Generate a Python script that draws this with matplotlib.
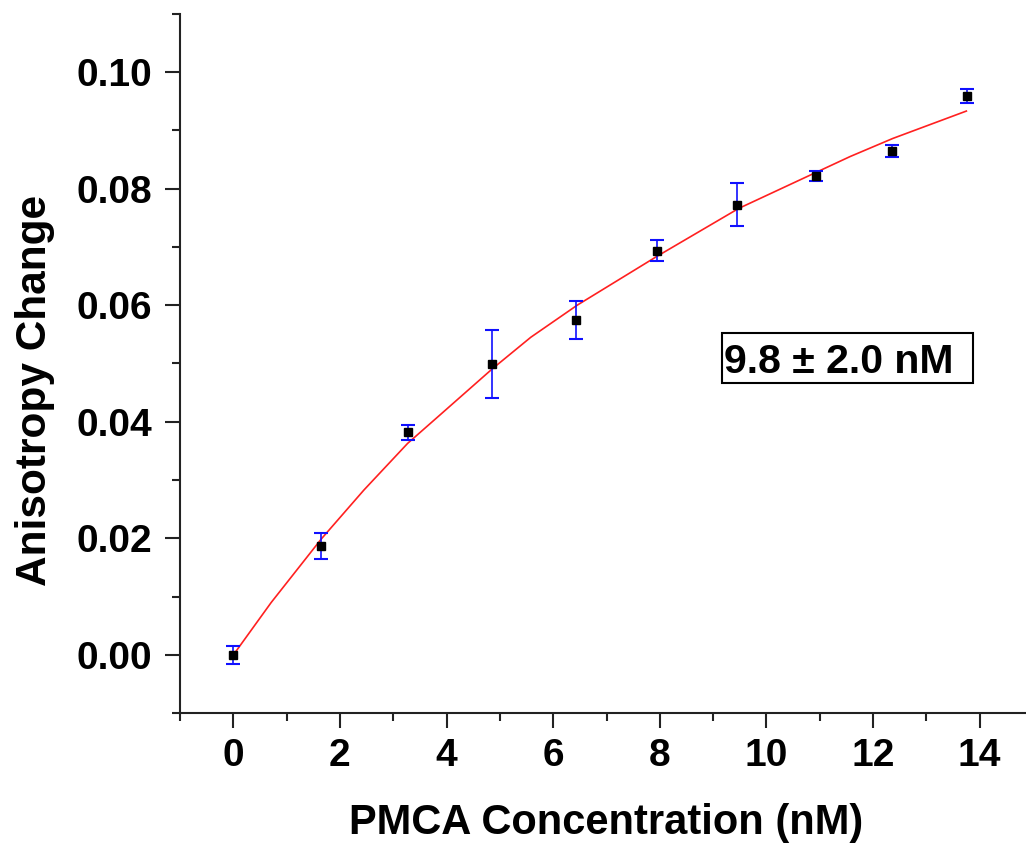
import matplotlib
matplotlib.use("Agg")
import matplotlib.pyplot as plt
from matplotlib.patches import Rectangle
from matplotlib.ticker import MultipleLocator, FormatStrFormatter

# Data
conc = [0.0, 1.65, 3.27, 4.85, 6.42, 7.95, 9.45, 10.93, 12.35, 13.77]
aniso = [0.0000, 0.0187, 0.0382, 0.0499, 0.0575, 0.0693, 0.0772, 0.0822, 0.0864, 0.0959]
aniso_err = [0.0015, 0.0022, 0.0013, 0.0058, 0.0033, 0.0018, 0.0037, 0.0009, 0.0010, 0.0012]

fit_x = [0.0, 0.71, 1.65, 2.45, 3.27, 3.83, 4.86, 5.58, 6.45, 7.95, 9.48, 10.63, 11.57, 12.37, 13.75]
fit_y = [0.0, 0.0090, 0.0199, 0.0283, 0.0363, 0.0408, 0.0491, 0.0545, 0.0600, 0.0684, 0.0766, 0.0815, 0.0855, 0.0886, 0.0933]

x_ticks = [0, 2, 4, 6, 8, 10, 12, 14]
y_ticks = [0.00, 0.02, 0.04, 0.06, 0.08, 0.10]
annot_text = "9.8 \u00b1 2.0 nM"

W, H = 1026, 846
fig = plt.figure(figsize=(W / 100, H / 100), dpi=100)
plt.rcParams['font.family'] = ['Liberation Sans', 'DejaVu Sans']
plt.rcParams['font.weight'] = 'bold'

# axes in pixel geometry
left, right, top, bottom = 180, 1033, 13.7, 713.3
ax = fig.add_axes([left / W, (H - bottom) / H, (right - left) / W, (bottom - top) / H])
ax.set_xlim(-1, 15)
ax.set_ylim(-0.01, 0.11)

spine_c = '#222222'
for s in ['top', 'right']:
    ax.spines[s].set_visible(False)
for s in ['left', 'bottom']:
    ax.spines[s].set_linewidth(1.5)
    ax.spines[s].set_color(spine_c)

ax.set_xticks(x_ticks)
ax.set_yticks(y_ticks)
ax.xaxis.set_minor_locator(MultipleLocator(1))
ax.yaxis.set_minor_locator(MultipleLocator(0.01))
ax.yaxis.set_major_formatter(FormatStrFormatter('%.2f'))
ax.tick_params(which='major', direction='out', length=11, width=1.5, color=spine_c,
               labelsize=28, pad=7)
ax.tick_params(which='minor', direction='out', length=6, width=1.5, color=spine_c)
ax.tick_params(axis='y', which='major', pad=9)
for lab in ax.get_xticklabels() + ax.get_yticklabels():
    lab.set_fontweight('bold')

ax.plot(fit_x, fit_y, color='#ff2020', lw=1.2, zorder=2)
ax.errorbar(conc, aniso, yerr=aniso_err, fmt='none', ecolor='#1010ff', elinewidth=1.2,
            capsize=4.7, capthick=1.5, zorder=3)
ax.plot(conc, aniso, 's', color='black', markersize=5.5, zorder=4)

ax.text(9.2, 0.04837, annot_text, fontsize=29.5, fontweight='bold', ha='left', va='baseline')
ax.add_patch(Rectangle((9.171, 0.04666), 13.87 - 9.171, 0.05523 - 0.04666, fill=False,
                       lw=1.5, edgecolor='black', zorder=5))

fig.text(35 / W, 1 - 390 / H, 'Anisotropy Change', rotation=90, fontsize=30.5, fontweight='bold',
         ha='center', va='center')
fig.text(606 / W, 1 - 823 / H, 'PMCA Concentration (nM)', fontsize=30, fontweight='bold',
         ha='center', va='center')

fig.savefig('out.png', dpi=100)
